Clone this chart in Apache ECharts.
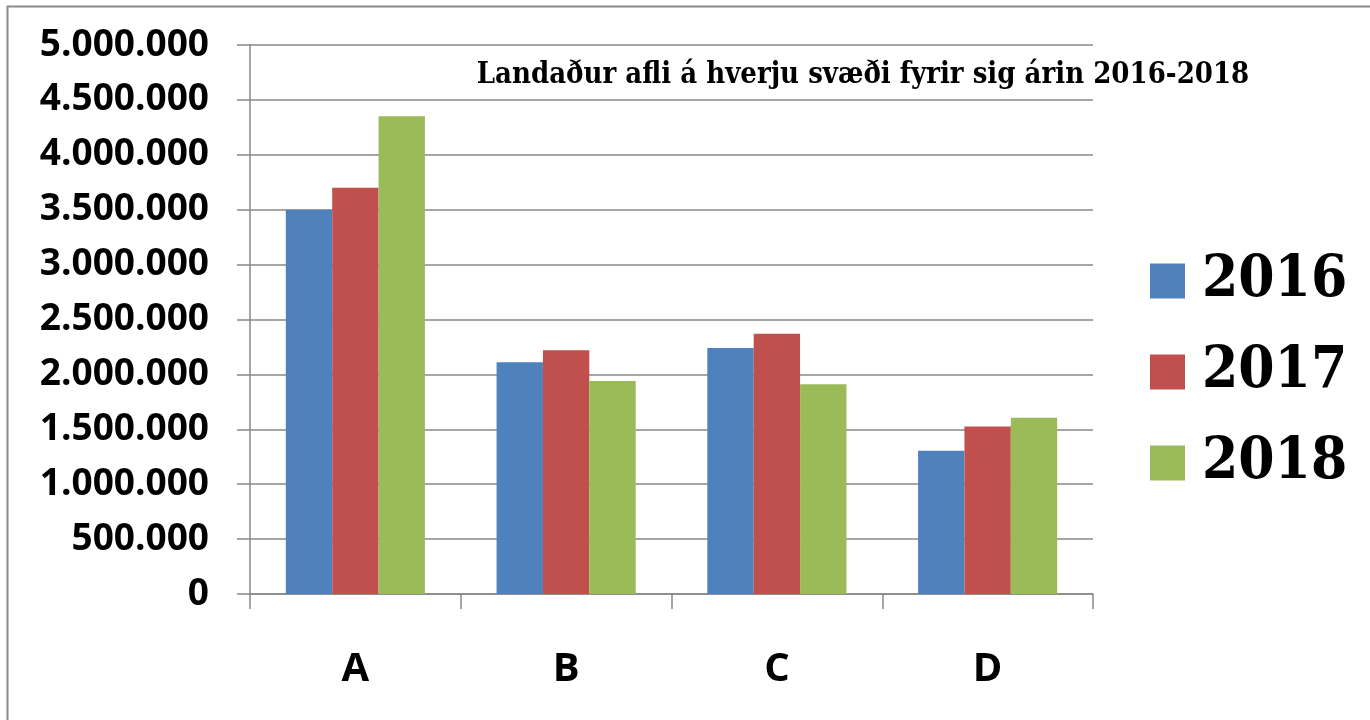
<!DOCTYPE html>
<html>
<head>
<meta charset="utf-8">
<script src="https://cdn.jsdelivr.net/npm/echarts@6/dist/echarts.min.js"></script>
<style>
  html, body { margin: 0; padding: 0; background: #fff; }
  #chart { width: 1370px; height: 720px; }
</style>
</head>
<body>
<div id="chart"></div>
<script>
  // svæði og ár
  var categories = ['A', 'B', 'C', 'D'];
  var years = ['2016', '2017', '2018'];
  var afli2016 = [3500000, 2110000, 2240000, 1305000];
  var afli2017 = [3700000, 2220000, 2370000, 1525000];
  var afli2018 = [4350000, 1940000, 1910000, 1605000];
  var colors = ['#4F81BD', '#C0504D', '#9BBB59'];

  function fmt(v) {
    return String(v).replace(/\B(?=(\d{3})+(?!\d))/g, '.');
  }

  var chart = echarts.init(document.getElementById('chart'));

  var option = {
    backgroundColor: '#fff',
    animation: false,
    color: colors,
    title: {
      text: 'Landaður afli á hverju svæði fyrir sig árin 2016-2018',
      left: 858,
      top: 56,
      textAlign: 'center',
      textStyle: {
        fontFamily: 'DejaVu Serif Condensed',
        fontWeight: 'bold',
        fontSize: 29,
        color: '#000'
      }
    },
    legend: {
      orient: 'vertical',
      left: 1145,
      top: 247,
      itemWidth: 35,
      itemHeight: 35,
      itemGap: 33,
      icon: 'rect',
      data: years,
      textStyle: {
        fontFamily: 'DejaVu Serif Condensed',
        fontWeight: 'bold',
        fontSize: 58,
        lineHeight: 58,
        color: '#000',
        padding: [0, 0, 0, 12]
      }
    },
    graphic: [
      { type: 'line', shape: { x1: 7, y1: 6.5, x2: 1370, y2: 6.5 }, style: { stroke: '#8a8a8a', lineWidth: 2 } },
      { type: 'line', shape: { x1: 7.5, y1: 6, x2: 7.5, y2: 720 }, style: { stroke: '#8a8a8a', lineWidth: 2 } }
    ],
    grid: {
      left: 250,
      right: 277,
      top: 45,
      bottom: 126,
      containLabel: false
    },
    xAxis: {
      type: 'category',
      data: categories,
      axisLine: { lineStyle: { color: '#888', width: 1.5 } },
      axisTick: { show: true, length: 15, lineStyle: { color: '#888', width: 1.5 } },
      axisLabel: {
        margin: 56,
        fontFamily: 'Open Sans',
        fontWeight: 'bold',
        fontSize: 40,
        color: '#000'
      }
    },
    yAxis: {
      type: 'value',
      min: 0,
      max: 5000000,
      interval: 500000,
      axisLine: { show: true, lineStyle: { color: '#888', width: 1.5 } },
      axisTick: { show: true, length: 13, lineStyle: { color: '#888', width: 1.5 } },
      splitLine: { lineStyle: { color: '#888', width: 1.5 } },
      axisLabel: {
        margin: 41,
        formatter: fmt,
        fontFamily: 'Open Sans',
        fontWeight: 'bold',
        fontSize: 37,
        color: '#000'
      }
    },
    series: [
      { name: years[0], type: 'bar', data: afli2016, barGap: '0%', barCategoryGap: '34%' },
      { name: years[1], type: 'bar', data: afli2017, barGap: '0%', barCategoryGap: '34%' },
      { name: years[2], type: 'bar', data: afli2018, barGap: '0%', barCategoryGap: '34%' }
    ]
  };

  chart.setOption(option);
</script>
</body>
</html>
